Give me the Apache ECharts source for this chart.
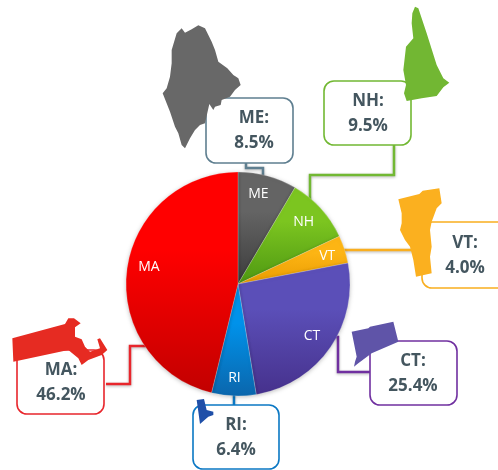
<!DOCTYPE html>
<html><head><meta charset="utf-8">
<style>html,body{margin:0;padding:0;background:#fff}#c{width:498px;height:470px}</style>
<script src="https://cdn.jsdelivr.net/npm/echarts@6/dist/echarts.min.js"></script>
</head><body><div id="c"></div>
<script>
const categories = ['ME','NH','VT','CT','RI','MA'];
const values = [8.5,9.5,4.0,25.4,6.4,46.2];
const gradTop = ['#646464','#7cc520','#fdb514','#5b4fb8','#0092ea','#ff0000'];
const gradBottom = ['#3c3c3c','#4e9812','#ea9c02','#46318c','#0b66ac','#c20000'];
const lineColors = ['#5f7f90','#72b833','#f9ae1f','#7030a0','#0b78c4','#e8262c'];

// callout layout, by category
const boxes = {ME:[206,98,87,65],NH:[324,81,87,64],VT:[422,222,90,66],CT:[370,341,87,64],RI:[193,405,86,64],MA:[17,350,87,64]};
const textCentre = {ME:[254,131],NH:[368,114],VT:[465,256],CT:[413,374],RI:[236,438],MA:[61,383]};
const leaders = {
  ME:[[246,163],[246,168],[263,168],[263,178]],
  NH:[[394,145],[394,175],[310,175],[310,200]],
  VT:[[340,250],[414,250]],
  CT:[[334,337],[338,337],[338,372],[370,372]],
  RI:[[234,392],[234,405]],
  MA:[[106,384],[130,384],[130,346],[146,346]]
};
const labelNudge = {ME:[-4,-1],NH:[-3,0],VT:[1,1],CT:[-2,-1],RI:[0,1],MA:[3,-6]};
// state silhouettes: [origin x, origin y, colour, outline in 3x coordinates]
const shapes = {
  ME:[150,0,'#686868',[[95,85],[105,98],[125,88],[145,76],[165,85],[175,105],[185,125],[195,150],[205,185],[232,205],[250,225],[265,235],[272,255],[255,270],[240,290],[215,300],[212,315],[195,320],[190,330],[178,312],[165,370],[150,375],[135,390],[120,415],[105,445],[95,435],[85,400],[75,380],[60,335],[38,280],[50,265],[60,230],[65,190],[65,150],[80,100]]],
  NH:[150,0,'#72b733',[[795,20],[805,25],[830,100],[860,195],[880,235],[898,248],[880,262],[860,288],[815,295],[770,303],[762,280],[768,255],[760,210],[768,140],[790,115],[785,70],[787,40]]],
  VT:[330,180,'#fbb01f',[[205,58],[268,42],[278,32],[328,25],[335,70],[320,85],[305,125],[300,150],[305,200],[300,230],[305,280],[258,290],[250,240],[240,200],[225,180],[210,150],[215,130],[215,100]]],
  CT:[330,180,'#5f54a8',[[65,455],[115,445],[120,440],[190,425],[205,485],[125,520],[82,552],[72,560],[75,545],[80,530]]],
  RI:[0,300,'#1f4fa8',[[590,300],[612,297],[620,330],[640,335],[640,345],[625,350],[600,372],[595,335]]],
  MA:[0,300,'#e62b22',[[37,115],[195,72],[205,55],[222,55],[242,70],[225,82],[225,110],[245,118],[255,140],[270,155],[300,145],[292,118],[300,115],[322,150],[305,165],[265,180],[245,195],[235,175],[205,150],[40,185]]]
};
const pieCentre = [238,284], pieRadius = 112, labelRadius = 88;

const chart = echarts.init(document.getElementById('c'), null, {renderer:'canvas'});
const graphics = [];
categories.forEach((c,i)=>{
  graphics.push({type:'polyline',z:1,silent:true,shape:{points:leaders[c]},
    style:{stroke:lineColors[i],lineWidth:2.5,fill:null,shadowBlur:3,shadowColor:'rgba(0,0,0,.3)',shadowOffsetY:1}});
  const b = boxes[c];
  graphics.push({type:'rect',z:5,silent:true,shape:{x:b[0],y:b[1],width:b[2],height:b[3],r:10},
    style:{fill:'#fff',stroke:lineColors[i],lineWidth:1.6}});
  const t = textCentre[c];
  graphics.push({type:'text',z:6,silent:true,x:t[0],y:t[1],
    style:{text:c+':\n'+values[i].toFixed(1)+'%',fill:'#44565f',font:'bold 17px "Open Sans"',lineHeight:25,align:'center',verticalAlign:'middle'}});
  const s = shapes[c];
  graphics.push({type:'polygon',z:10,silent:true,x:s[0],y:s[1],scaleX:1/3,scaleY:1/3,
    shape:{points:s[3]},style:{fill:s[2]}});
});

chart.setOption({
  animation:false,
  series:[{
    type:'pie',z:3,center:pieCentre,radius:[0,pieRadius],startAngle:90,clockwise:true,
    data:categories.map((c,i)=>({name:c,value:values[i],itemStyle:{
      color:{type:'linear',x:0,y:0,x2:0,y2:1,colorStops:[{offset:0,color:gradTop[i]},{offset:.35,color:gradTop[i]},{offset:1,color:gradBottom[i]}]}
    }})),
    itemStyle:{borderColor:'rgba(255,255,255,.35)',borderWidth:.6,shadowBlur:4,shadowColor:'rgba(0,0,0,.25)',shadowOffsetY:1},
    label:{show:true,position:'inside',formatter:'{b}',color:'#fff',fontFamily:'Open Sans',fontSize:14,rotate:0},
    labelLine:{show:false},
    labelLayout:p=>{
      const r=p.labelRect, k=labelRadius/(pieRadius/2)-1, n=labelNudge[categories[p.dataIndex]];
      return {dx:(r.x+r.width/2-pieCentre[0])*k+n[0], dy:(r.y+r.height/2-pieCentre[1])*k+n[1]};
    },
    emphasis:{disabled:true}
  }],
  graphic:graphics
});
</script></body></html>
